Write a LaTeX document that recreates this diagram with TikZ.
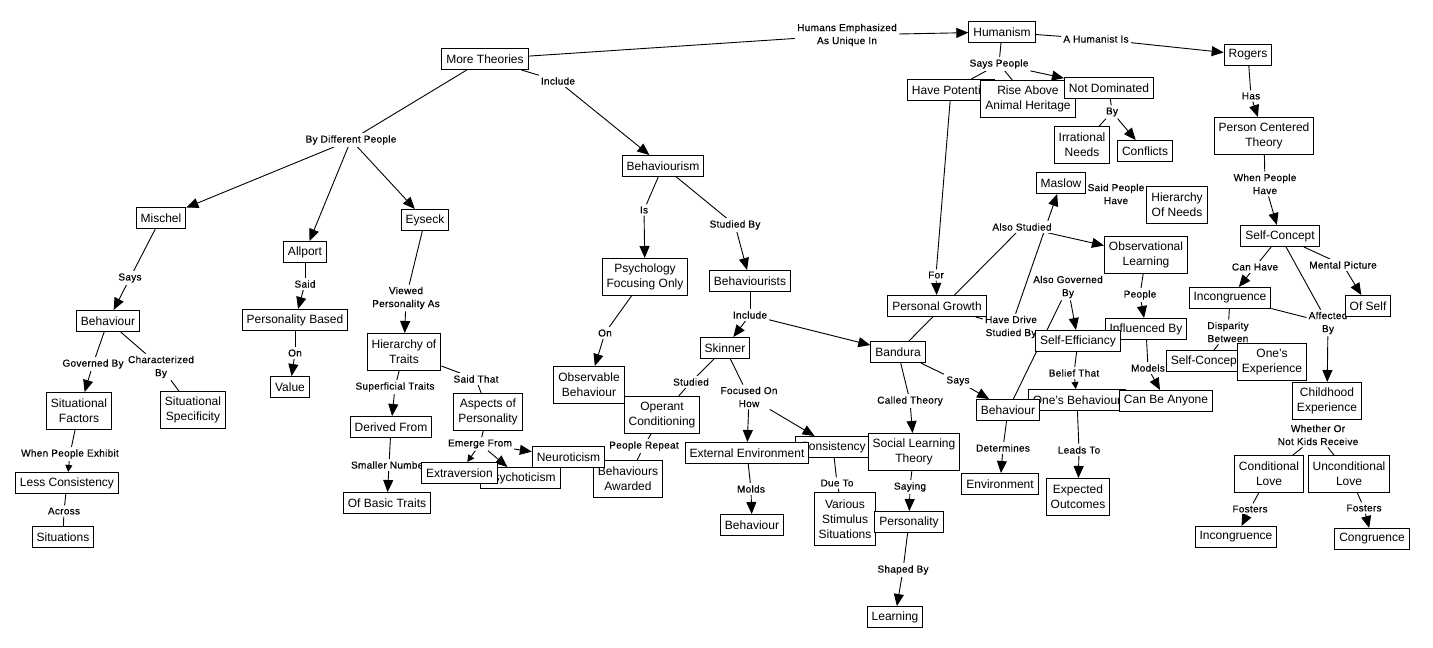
\documentclass[tikz,border=0pt]{standalone}
\usepackage{fontspec}
\setmainfont{Liberation Sans}
\newfontfamily\lblfont[LetterSpace=3,FakeBold=0.4]{Liberation Sans}
\usetikzlibrary{arrows.meta}
\pgfdeclarelayer{bg}
\pgfdeclarelayer{edges}
\pgfdeclarelayer{labels}
\pgfsetlayers{bg,edges,labels,main}
\begin{document}
\begin{tikzpicture}[x=1pt,y=-1pt,
  box/.style={draw, line width=1pt, fill=white, font=\fontsize{12}{15}\selectfont, align=center, inner xsep=4.5pt, inner ysep=3pt, minimum height=21pt},
  boxb/.style={box, minimum height=37pt},
  boxc/.style={box, minimum height=53pt},
  lbl/.style={fill=white, font=\lblfont\fontsize{10}{13}\selectfont, align=center, inner sep=2pt},
  ln/.style={line width=0.9pt},
  arr/.style={ln, -{Triangle[length=12pt,width=10pt]}},
  sarr/.style={ln, -{Triangle[length=7pt,width=7pt]}}]
\begin{pgfonlayer}{bg}
\fill[white] (0,0) rectangle (1433,648);
\end{pgfonlayer}
\useasboundingbox (0,0) rectangle (1433,648);
% ---------- labels ----------
\begin{pgfonlayer}{labels}
\node[lbl] (bdp) at (351,140) {By Different People};
\node[lbl] (inc1) at (558,81) {Include};
\node[lbl] (hum) at (847,35) {Humans Emphasized\\As Unique In};
\node[lbl] (says1) at (130,278) {Says};
\node[lbl] (said) at (305,284) {Said};
\node[lbl] (viewed) at (406,298) {Viewed\\Personality As};
\node[lbl] (gov) at (93,364) {Governed By};
\node[lbl] (char) at (161,367) {Characterized\\By};
\node[lbl] (wpe) at (70,454) {When People Exhibit};
\node[lbl] (across) at (64,511) {Across};
\node[lbl] (on1) at (295,353) {On};
\node[lbl] (sup) at (395,387) {Superficial Traits};
\node[lbl] (small) at (389,465) {Smaller Number};
\node[lbl] (saidthat) at (476,379) {Said That};
\node[lbl] (emerge) at (480,444) {Emerge From};
\node[lbl] (is) at (644,210) {Is};
\node[lbl] (studby) at (735,225) {Studied By};
\node[lbl] (on2) at (605,333) {On};
\node[lbl] (inc2) at (750,315) {Include};
\node[lbl] (studied) at (691,382) {Studied};
\node[lbl] (focus) at (749,397) {Focused On\\How};
\node[lbl] (peoplerep) at (644,446) {People Repeat};
\node[lbl] (molds) at (751,489) {Molds};
\node[lbl] (dueto) at (837,483) {Due To};
\node[lbl] (called) at (910,401) {Called Theory};
\node[lbl] (saying) at (910,487) {Saying};
\node[lbl] (shaped) at (903,570) {Shaped By};
\node[lbl] (says2) at (958,381) {Says};
\node[lbl] (det) at (1003,448) {Determines};
\node[lbl] (belief) at (1074,373) {Belief That};
\node[lbl] (leads) at (1079,450) {Leads To};
\node[lbl] (alsogov) at (1068,287) {Also Governed\\By};
\node[lbl] (havedrive) at (1011,327) {Have Drive\\Studied By};
\node[lbl] (alsostud) at (1022,227) {Also Studied};
\node[lbl] (for) at (936,275) {For};
\node[lbl] (saidpeople) at (1116,194) {Said People\\Have};
\node[lbl] (people) at (1140,295) {People};
\node[lbl] (models) at (1148,368) {Models};
\node[lbl] (sayspeople) at (999,64) {Says People};
\node[lbl] (ahum) at (1096,39) {A Humanist Is};
\node[lbl] (by) at (1112,112) {By};
\node[lbl] (has) at (1251,96) {Has};
\node[lbl] (wph) at (1265,184) {When People\\Have};
\node[lbl] (canhave) at (1255,267) {Can Have};
\node[lbl] (mental) at (1343,265) {Mental Picture};
\node[lbl] (disp) at (1228,332) {Disparity\\Between};
\node[lbl] (affected) at (1328,323) {Affected\\By};
\node[lbl] (whether) at (1318,435) {Whether Or\\Not Kids Receive};
\node[lbl] (fost1) at (1250,509) {Fosters};
\node[lbl] (fost2) at (1364,508) {Fosters};
\end{pgfonlayer}
% ---------- concepts ----------
\node[box] (moreth) at (485,59) {More Theories};
\node[box] (mischel) at (161,218) {Mischel};
\node[box] (allport) at (305,252) {Allport};
\node[box] (eyseck) at (425,220) {Eyseck};
\node[box] (behL) at (108,321) {Behaviour};
\node[box] (persbased) at (295,320) {Personality Based};
\node[boxb] (sitfac) at (79,411) {Situational\\Factors};
\node[boxb] (sitspec) at (193,410) {Situational\\Specificity};
\node[box] (lesscons) at (67,483) {Less Consistency};
\node[box] (situations) at (63,537) {Situations};
\node[box] (value) at (290,387) {Value};
\node[boxb] (hierT) at (404,352) {Hierarchy of\\Traits};
\node[box] (derived) at (391,427) {Derived From};
\node[box] (basic) at (387,503) {Of Basic Traits};
\node[boxb] (aspects) at (488,412) {Aspects of\\Personality};
\node[box] (psychot) at (520.5,478) {Psychoticism};
\node[box] (extra) at (459.5,473) {Extraversion};
\node[boxb] (behAw) at (628,479) {Behaviours\\Awarded};
\node[box] (neuro) at (568.5,457) {Neuroticism};
\node[box] (behaviourism) at (663,166) {Behaviourism};
\node[boxb] (psychF) at (645,277) {Psychology\\Focusing Only};
\node[box] (behists) at (750,281) {Behaviourists};
\node[boxb] (obsB) at (589,385) {Observable\\Behaviour};
\node[boxb] (operant) at (662,415) {Operant\\Conditioning};
\node[box] (skinner) at (725,348) {Skinner};
\node[box] (consist) at (833,447) {Consistency};
\node[box] (extEnv) at (747,453) {External Environment};
\node[box] (behM) at (752,525) {Behaviour};
\node[boxc] (various) at (845,519) {Various\\Stimulus\\Situations};
\node[box] (bandura) at (898,352) {Bandura};
\node[boxb] (slt) at (914,452) {Social Learning\\Theory};
\node[box] (personality) at (909,522) {Personality};
\node[box] (learning) at (895,617) {Learning};
\node[box] (humanism) at (1002,32) {Humanism};
\node[box] (havepot) at (951,90) {Have Potential};
\node[boxb] (rise) at (1028,99) {Rise Above\\Animal Heritage};
\node[box] (notdom) at (1109,88) {Not Dominated};
\node[boxb] (irr) at (1082,145) {Irrational\\Needs};
\node[box] (conflicts) at (1145,151) {Conflicts};
\node[box] (rogers) at (1248,55) {Rogers};
\node[boxb] (pct) at (1264,136) {Person Centered\\Theory};
\node[box] (maslow) at (1061,183) {Maslow};
\node[boxb] (hon) at (1177,205) {Hierarchy\\Of Needs};
\node[box] (selfc1) at (1280,236) {Self-Concept};
\node[boxb] (obsL) at (1146,255) {Observational\\Learning};
\node[box] (incong1) at (1230,298) {Incongruence};
\node[box] (ofself) at (1368,306) {Of Self};
\node[box] (persG) at (937,306) {Personal Growth};
\node[box] (influenced) at (1146,329) {Influenced By};
\node[box] (selfeff) at (1078,341) {Self-Efficiancy};
\node[box] (onesB) at (1077,400) {One's Behaviour};
\node[box] (behR) at (1008,410) {Behaviour};
\node[box] (canbe) at (1166,401) {Can Be Anyone};
\node[box] (selfc2) at (1205.5,361) {Self-Concept};
\node[boxb] (onesE) at (1272,362) {One's\\Experience};
\node[boxb] (childhood) at (1327,401) {Childhood\\Experience};
\node[boxb] (condl) at (1269,474) {Conditional\\Love};
\node[boxb] (uncondl) at (1349,474) {Unconditional\\Love};
\node[box] (incong2) at (1236,537) {Incongruence};
\node[box] (congruence) at (1372,539) {Congruence};
\node[box] (environment) at (1000,484) {Environment};
\node[boxb] (expected) at (1078,497) {Expected\\Outcomes};
% ---------- connectors ----------
\begin{pgfonlayer}{edges}
\draw[ln] (moreth) -- (bdp);
\draw[arr] (bdp) -- (mischel);
\draw[arr] (bdp) -- (allport);
\draw[arr] (bdp) -- (eyseck);
\draw[ln] (moreth) -- (inc1);
\draw[arr] (inc1) -- (behaviourism);
\draw[ln] (moreth) -- (hum);
\draw[arr] (hum) -- (humanism);
\draw[ln] (mischel) -- (says1);
\draw[arr] (says1) -- (behL);
\draw[ln] (allport) -- (said);
\draw[arr] (said) -- (persbased);
\draw[ln] (eyseck) -- (viewed);
\draw[arr] (viewed) -- (hierT);
\draw[ln] (behL) -- (gov);
\draw[arr] (gov) -- (sitfac);
\draw[ln] (behL) -- (char);
\draw[ln] (char) -- (sitspec);
\draw[ln] (sitfac) -- (wpe);
\draw[sarr] (wpe) -- (lesscons);
\draw[ln] (lesscons) -- (across);
\draw[ln] (across) -- (situations);
\draw[ln] (persbased) -- (on1);
\draw[arr] (on1) -- (value);
\draw[ln] (hierT) -- (sup);
\draw[arr] (sup) -- (derived);
\draw[ln] (derived) -- (small);
\draw[arr] (small) -- (basic);
\draw[ln] (hierT) -- (saidthat);
\draw[ln] (saidthat) -- (aspects);
\draw[ln] (aspects) -- (emerge);
\draw[sarr] (emerge) -- (extra);
\draw[arr] (emerge) -- (psychot);
\draw[arr] (emerge) -- (neuro);
\draw[ln] (behaviourism) -- (is);
\draw[arr] (is) -- (psychF);
\draw[ln] (behaviourism) -- (studby);
\draw[arr] (studby) -- (behists);
\draw[ln] (psychF) -- (on2);
\draw[arr] (on2) -- (obsB);
\draw[ln] (behists) -- (inc2);
\draw[arr] (inc2) -- (skinner);
\draw[arr] (inc2) -- (bandura);
\draw[ln] (skinner) -- (studied);
\draw[ln] (studied) -- (operant);
\draw[ln] (operant) -- (peoplerep);
\draw[ln] (peoplerep) -- (behAw);
\draw[ln] (skinner) -- (focus);
\draw[arr] (focus) -- (extEnv);
\draw[arr] (focus) -- (consist);
\draw[ln] (extEnv) -- (molds);
\draw[arr] (molds) -- (behM);
\draw[ln] (consist) -- (dueto);
\draw[ln] (dueto) -- (various);
\draw[ln] (bandura) -- (called);
\draw[arr] (called) -- (slt);
\draw[ln] (slt) -- (saying);
\draw[arr] (saying) -- (personality);
\draw[ln] (personality) -- (shaped);
\draw[arr] (shaped) -- (learning);
\draw[ln] (bandura) -- (says2);
\draw[arr] (says2) -- (behR);
\draw[ln] (behR) -- (det);
\draw[arr] (det) -- (environment);
\draw[ln] (bandura) -- (alsostud);
\draw[arr] (alsostud) -- (obsL);
\draw[ln] (behR) -- (alsogov);
\draw[arr] (alsogov) -- (selfeff);
\draw[ln] (selfeff) -- (belief);
\draw[sarr] (belief) -- (onesB);
\draw[ln] (onesB) -- (leads);
\draw[arr] (leads) -- (expected);
\draw[ln] (persG) -- (havedrive);
\draw[arr] (havedrive) -- (maslow);
\draw[ln] (havepot) -- (for);
\draw[arr] (for) -- (persG);
\draw[ln] (obsL) -- (people);
\draw[arr] (people) -- (influenced);
\draw[ln] (influenced) -- (models);
\draw[arr] (models) -- (canbe);
\draw[ln] (humanism) -- (sayspeople);
\draw[ln] (sayspeople) -- (havepot);
\draw[ln] (sayspeople) -- (rise);
\draw[arr] (sayspeople) -- (notdom);
\draw[ln] (humanism) -- (ahum);
\draw[arr] (ahum) -- (rogers);
\draw[ln] (notdom) -- (by);
\draw[ln] (by) -- (irr);
\draw[arr] (by) -- (conflicts);
\draw[ln] (rogers) -- (has);
\draw[arr] (has) -- (pct);
\draw[ln] (pct) -- (wph);
\draw[arr] (wph) -- (selfc1);
\draw[ln] (selfc1) -- (canhave);
\draw[arr] (canhave) -- (incong1);
\draw[ln] (selfc1) -- (mental);
\draw[arr] (mental) -- (ofself);
\draw[ln] (selfc1) -- (affected);
\draw[ln] (incong1) -- (affected);
\draw[arr] (affected) -- (childhood);
\draw[ln] (incong1) -- (disp);
\draw[ln] (disp) -- (selfc2);
\draw[ln] (disp) -- (onesE);
\draw[ln] (whether) -- (condl);
\draw[ln] (whether) -- (uncondl);
\draw[ln] (condl) -- (fost1);
\draw[arr] (fost1) -- (incong2);
\draw[ln] (uncondl) -- (fost2);
\draw[arr] (fost2) -- (congruence);
\end{pgfonlayer}
\end{tikzpicture}
\end{document}
